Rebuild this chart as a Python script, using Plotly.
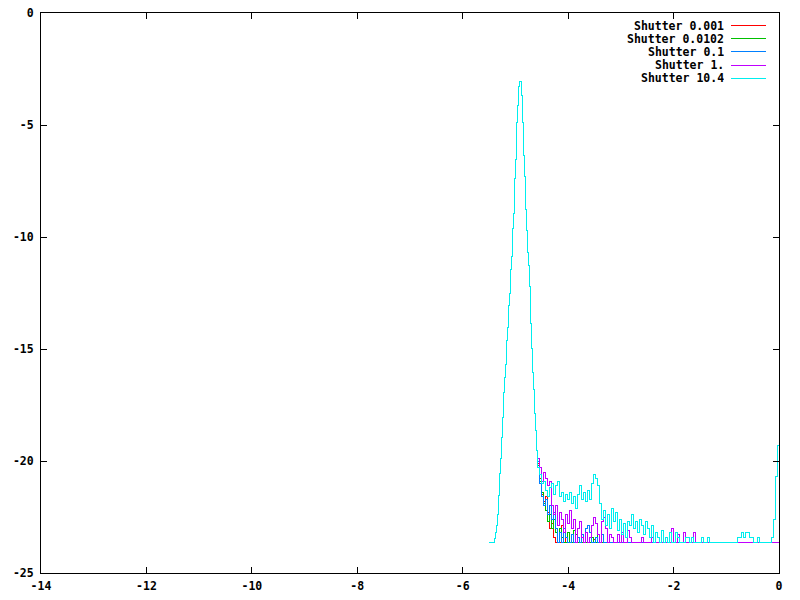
import numpy as np
import plotly.graph_objects as go

# ---------------- data ----------------
series_names = ["Shutter 0.001", "Shutter 0.0102", "Shutter 0.1", "Shutter 1.", "Shutter 10.4"]
series_colors = ["#ff0000", "#00c000", "#0080ff", "#c000ff", "#00eeee"]

FLOOR = -23.66
X_START = -5.50      # first bin of the peak
PEAK_W = 0.019       # bin width in the peak
TAIL_W = 0.038       # bin width in the tail

peak_values = [
    -23.66, -23.66, -23.66, -23.66, -23.66,
    -23.44, -23.21, -22.86, -22.41, -21.52, -20.54, -19.87, -18.93, -18.04, -16.92,
    -16.29, -15.71, -14.60, -14.06, -13.04, -12.50, -11.43, -10.85, -9.60, -8.93,
    -7.37, -6.52, -4.87, -4.15, -3.30, -3.04, -3.04,
    -3.70, -4.87, -6.38, -7.28, -8.79, -9.69, -10.67, -11.25, -12.20, -13.84,
    -14.96, -16.03, -16.83, -17.86, -18.62, -19.51,
]

tail_red = [
    -20.1, -20.8, -21.5, -21.8, -21.6, -22.3, -23.0, -22.8, -23.4, -23.66,
    -23.66, -23.66, -22.9, -23.66, -23.4, -23.66,
    -23.66, -23.66, -23.66, -23.66, -23.66, -23.66, -23.66, -23.66, -23.66, -23.66, -23.66, -23.66,
    -23.5, -23.66,
]
tail_green = [
    -20.2, -20.9, -21.4, -21.9, -22.2, -22.7, -22.4, -23.0, -22.6, -23.2,
    -23.66, -23.0, -23.4, -23.66, -23.66, -23.2, -23.66, -23.66, -23.1, -23.3,
    -23.66, -23.66, -23.66, -23.66, -23.66, -23.66, -23.66,
    -23.4, -23.66, -23.66, -23.3, -23.66,
]
tail_blue = [
    -20.0, -21.0, -21.6, -22.0, -21.7, -22.4, -22.0, -22.6, -22.3, -23.0,
    -23.66, -23.2, -23.66, -23.0, -23.4, -23.66, -23.66, -23.3, -23.66, -23.66,
    -23.4, -23.66, -23.3, -23.66, -23.0, -22.9, -23.2, -23.66, -23.66, -23.4,
    -23.66, -23.66, -23.3, -23.66,
]
tail_magenta = [
    -19.9, -20.3, -20.9, -20.5, -20.8, -21.1, -20.9, -22.0, -22.4, -22.0,
    -22.9, -22.3, -22.6, -23.2, -22.4, -22.8, -22.2, -23.0, -22.6, -23.66,
    -23.0, -22.7, -23.4, -23.66, -23.2, -23.66, -23.4, -22.9, -22.5, -22.8,
    -23.3, -23.66, -22.7, -22.5, -23.0, -23.66, -23.3, -23.4, -23.66, -23.66,
    -23.3, -23.66, -23.2, -23.66, -23.66, -23.1, -23.4,
    -23.66, -23.66, -23.66, -23.66, -23.66,
    -23.4, -23.66, -23.66, -23.66, -23.66, -23.4,
    -23.66, -23.66, -23.66, -23.66, -23.66, -23.66, -23.66, -23.66, -23.66,
    -23.0, -23.66, -23.66, -23.3, -23.66, -23.66, -23.2,
    -23.66, -23.66, -23.66, -23.66, -23.17, -23.66,
]
tail_cyan = [
    -20.3, -20.6, -21.0, -20.9, -21.3, -21.6, -21.2, -21.0, -21.5, -21.1,
    -20.9, -21.6, -21.4, -21.8, -21.5, -21.7, -21.4, -21.9, -21.6, -22.1,
    -21.5, -21.1, -21.7, -21.4, -21.8, -21.3, -21.7, -21.0, -20.6, -20.8,
    -21.1, -21.9, -22.6, -22.2, -22.9, -22.4, -23.0, -22.1, -22.7, -22.3,
    -23.1, -22.6, -23.3, -22.8, -23.4, -22.7, -22.9, -22.4, -23.0, -22.7,
    -23.2, -22.6, -22.9, -23.3, -22.7, -23.0, -23.4, -22.9, -23.66, -23.2,
    -23.4, -23.66, -23.1, -23.66, -23.4, -23.66, -23.2, -23.66, -23.66, -23.2,
    -23.4, -23.66, -23.66, -23.66, -23.4, -23.4, -23.66, -23.4, -23.66, -23.66,
    -23.66, -23.66, -23.4, -23.66, -23.66, -23.4,
    -23.66, -23.66, -23.66, -23.66, -23.66, -23.66, -23.66,
    -23.66, -23.66, -23.66, -23.66, -23.66, -23.66, -23.66,
    -23.4, -23.4, -23.2, -23.4, -23.2, -23.2, -23.4, -23.4, -23.66, -23.66,
    -23.4, -23.66,
    -23.66, -23.66, -23.66, -23.66, -23.66,
    -23.4, -22.6, -20.7, -19.3,
]
tails = [tail_red, tail_green, tail_blue, tail_magenta, tail_cyan]

x_ticks = [-14, -12, -10, -8, -6, -4, -2, 0]
y_ticks = [-25, -20, -15, -10, -5, 0]

# ---------------- figure ----------------
FONT = dict(family="DejaVu Sans Mono", size=11.5, color="black", weight="bold")

fig = go.Figure()
n_peak = len(peak_values)
peak_x = X_START + PEAK_W * np.arange(n_peak)
tail_x0 = X_START + PEAK_W * n_peak
for name, color, tail in zip(series_names, series_colors, tails):
    tx = tail_x0 + TAIL_W * np.arange(len(tail))
    xs = np.concatenate([peak_x, tx, [0.0]])
    ys = np.concatenate([peak_values, tail, [tail[-1]]])
    fig.add_trace(go.Scatter(x=xs, y=ys, mode="lines", name=name,
                             line=dict(color=color, width=1, shape="hv"),
                             showlegend=False, hoverinfo="skip"))

# gnuplot-style key: right-aligned text with line sample to its right
row_y = [0.9768, 0.9536, 0.9304, 0.9071, 0.8839]
for name, color, yy in zip(series_names, series_colors, row_y):
    fig.add_annotation(x=0.9282, y=yy, xref="paper", yref="paper", text=name,
                       showarrow=False, xanchor="right", yanchor="middle", font=FONT,
                       height=12)
    fig.add_shape(type="line", xref="paper", yref="paper", x0=0.935, x1=0.9824,
                  y0=yy, y1=yy, line=dict(color=color, width=1))

axis_common = dict(showgrid=False, zeroline=False, showline=True, linecolor="black",
                   linewidth=1, mirror="ticks", ticks="inside", ticklen=6,
                   tickcolor="black", tickwidth=1, tickfont=FONT, automargin=False)
fig.update_xaxes(range=[-14, 0], tickvals=x_ticks, ticktext=[str(v) for v in x_ticks],
                 ticklabelstandoff=2, **axis_common)
fig.update_yaxes(range=[-25, 0], tickvals=y_ticks, ticktext=[str(v) for v in y_ticks],
                 ticklabelstandoff=4, **axis_common)

fig.update_layout(width=800, height=600, margin=dict(l=41, r=21, t=13, b=27),
                  plot_bgcolor="white", paper_bgcolor="white", showlegend=False)

page_fix = ("document.body.style.margin='0';"
            "document.body.style.overflow='hidden';"
            "document.querySelectorAll('.js-line, .shapelayer path').forEach(function(e){"
            "e.style.shapeRendering='crispEdges';});")
fig.write_html("out.html", post_script=page_fix, config={"displayModeBar": False})
